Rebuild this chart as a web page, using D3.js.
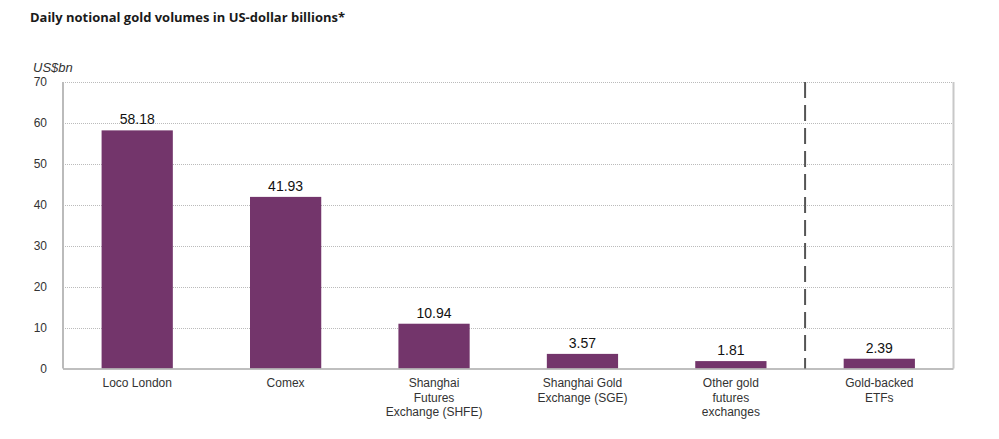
<!DOCTYPE html>
<html><head><meta charset="utf-8">
<script src="https://cdn.jsdelivr.net/npm/d3@7"></script>
<style>body{margin:0;background:#fff}svg{display:block}</style>
</head><body><svg id="c" width="999" height="439"></svg>
<script>
const categories = [["Loco London"],["Comex"],["Shanghai","Futures","Exchange (SHFE)"],["Shanghai Gold","Exchange (SGE)"],["Other gold","futures","exchanges"],["Gold-backed","ETFs"]];
const values = [58.18, 41.93, 10.94, 3.57, 1.81, 2.39];
const labels = ["58.18","41.93","10.94","3.57","1.81","2.39"];
const yTicks = [0,10,20,30,40,50,60,70];

const svg = d3.select("#c");
const L = 63, R = 953.5, T = 82, B = 368.5;
const x = d3.scaleBand().domain(d3.range(categories.length)).range([L, R]).paddingInner(0.52).paddingOuter(0.26);
const y = d3.scaleLinear().domain([0,70]).range([B, T]);

svg.append("text").attr("x",30).attr("y",22).attr("font-family","Open Sans").attr("font-weight","bold")
  .attr("font-size",13).attr("fill","#1a1a1a").attr("textLength",315).attr("lengthAdjust","spacingAndGlyphs")
  .text("Daily notional gold volumes in US-dollar billions*");
svg.append("text").attr("x",33).attr("y",72).attr("font-family","Liberation Sans").attr("font-style","italic")
  .attr("font-size",13).attr("fill","#333").text("US$bn");

// gridlines
svg.append("g").selectAll("line").data(yTicks.filter(d=>d>0)).join("line")
  .attr("x1",L).attr("x2",R).attr("y1",d=>Math.round(y(d))+0.5).attr("y2",d=>Math.round(y(d))+0.5)
  .attr("stroke","#bbb").attr("stroke-width",1).attr("stroke-dasharray","1,1");

// y axis labels
const yAxis = d3.axisLeft(y).tickValues(yTicks).tickSize(0).tickPadding(16);
const ya = svg.append("g").attr("transform",`translate(${L},0)`).call(yAxis);
ya.select(".domain").remove();
ya.selectAll("text").attr("font-family","Liberation Sans").attr("font-size",12).attr("fill","#333");

// right border and left axis
svg.append("line").attr("x1",R).attr("x2",R).attr("y1",T).attr("y2",B).attr("stroke","#c8c8c8").attr("stroke-width",2);
svg.append("line").attr("x1",L).attr("x2",L).attr("y1",T).attr("y2",B).attr("stroke","#bbb").attr("stroke-width",2);

// bars
svg.append("g").selectAll("rect").data(values).join("rect")
  .attr("x",(d,i)=>x(i)).attr("width",x.bandwidth()).attr("y",d=>y(d)).attr("height",d=>B-y(d))
  .attr("fill","#73356b");

// bottom axis line
svg.append("line").attr("x1",L).attr("x2",R).attr("y1",B+0.5).attr("y2",B+0.5).attr("stroke","#aaa").attr("stroke-width",1.5);

// dashed separator between the exchanges and ETFs
const sx = (x(4)+x.bandwidth()+x(5))/2;
svg.append("line").attr("x1",sx).attr("x2",sx).attr("y1",T).attr("y2",B)
  .attr("stroke","#555").attr("stroke-width",2).attr("stroke-dasharray","16,7");

// value labels
svg.append("g").selectAll("text").data(values).join("text")
  .attr("x",(d,i)=>x(i)+x.bandwidth()/2).attr("y",d=>y(d)-6).attr("text-anchor","middle")
  .attr("font-family","Liberation Sans").attr("font-size",14).attr("fill","#111").text((d,i)=>labels[i]);

// category labels
const cg = svg.append("g").selectAll("text").data(categories).join("text")
  .attr("x",(d,i)=>x(i)+x.bandwidth()/2).attr("y",387).attr("text-anchor","middle")
  .attr("font-family","Liberation Sans").attr("font-size",12).attr("fill","#333");
cg.selectAll("tspan").data(d=>d).join("tspan")
  .attr("x",function(){return this.parentNode.getAttribute("x");}).attr("dy",(d,i)=>i===0?0:14.5).text(d=>d);
</script></body></html>
